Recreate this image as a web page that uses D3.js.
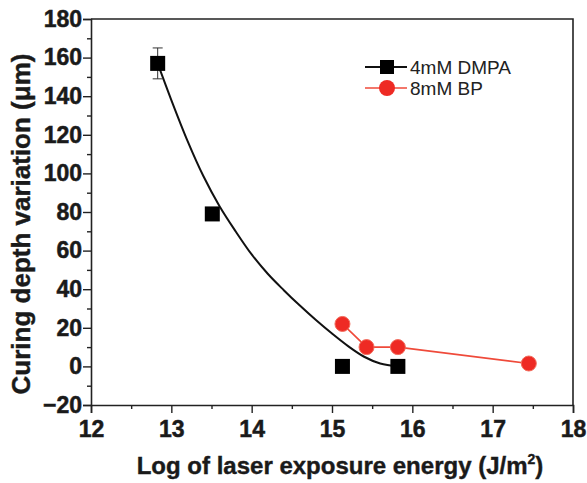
<!DOCTYPE html>
<html>
<head>
<meta charset="utf-8">
<script src="https://cdn.jsdelivr.net/npm/d3@7"></script>
<style>
  body { margin: 0; background: #fff; }
  svg { display: block; font-family: "Liberation Sans", Arial, sans-serif; }
</style>
</head>
<body>
<svg width="587" height="483"></svg>
<script>
// data
var dmpaX = [12.83, 13.51, 15.13, 15.82];
var dmpaY = [157, 79, 0, 0];
var dmpaErr = [8, 0, 0, 0];
var bpX = [15.13, 15.43, 15.82, 17.45];
var bpY = [22, 10, 10, 1.5];
// fitted curve for DMPA
var fitX = [12.83, 13.0, 13.2, 13.4, 13.6, 13.8, 14.0, 14.2, 14.4, 14.6, 14.8, 15.0, 15.2, 15.4, 15.6, 15.82];
var fitY = [157, 138, 117, 98.5, 83, 70, 58, 48, 39.5, 31.5, 24, 17, 10.5, 5, 1.5, 0];
var xTicks = [12, 13, 14, 15, 16, 17, 18];
var yTicks = [-20, 0, 20, 40, 60, 80, 100, 120, 140, 160, 180];
var xMinor = [12.5, 13.5, 14.5, 15.5, 16.5, 17.5];
var yMinor = [-10, 10, 30, 50, 70, 90, 110, 130, 150, 170];
var seriesNames = ["4mM DMPA", "8mM BP"];

var svg = d3.select("svg"),
    m = {left: 91, right: 573, top: 19, bottom: 405};

var x = d3.scaleLinear().domain([12, 18]).range([m.left, m.right]);
var y = d3.scaleLinear().domain([-20, 180]).range([m.bottom, m.top]);

var axisColor = "#222";

// frame top / right
svg.append("path")
  .attr("d", "M" + m.left + "," + m.top + "H" + m.right + "V" + m.bottom)
  .attr("fill", "none").attr("stroke", axisColor).attr("stroke-width", 1.6);

// major axes
var gx = svg.append("g").attr("transform", "translate(0," + m.bottom + ")")
  .call(d3.axisBottom(x).tickValues(xTicks).tickSize(8).tickPadding(4).tickFormat(d3.format("d")));
var gy = svg.append("g").attr("transform", "translate(" + m.left + ",0)")
  .call(d3.axisLeft(y).tickValues(yTicks).tickSize(8).tickPadding(1).tickFormat(d3.format("d")));

// minor ticks
svg.append("g").attr("transform", "translate(0," + m.bottom + ")")
  .call(d3.axisBottom(x).tickValues(xMinor).tickSize(4).tickFormat(""))
  .select(".domain").remove();
svg.append("g").attr("transform", "translate(" + m.left + ",0)")
  .call(d3.axisLeft(y).tickValues(yMinor).tickSize(4).tickFormat(""))
  .select(".domain").remove();

svg.selectAll(".domain").attr("stroke", axisColor).attr("stroke-width", 1.6);
svg.selectAll(".tick line").attr("stroke", axisColor).attr("stroke-width", 1.4);
svg.selectAll(".tick text")
  .attr("font-family", "'Liberation Sans', Arial, sans-serif")
  .attr("font-size", 23).attr("font-weight", "bold").attr("fill", "#1a1a1a")
  .attr("stroke", "#1a1a1a").attr("stroke-width", 0.5);
gx.selectAll(".tick text").attr("dy", "0.85em");

// axis titles
svg.append("text")
  .attr("x", 340).attr("y", 474)
  .attr("text-anchor", "middle")
  .attr("font-size", 24).attr("font-weight", "bold").attr("fill", "#1a1a1a")
  .attr("stroke", "#1a1a1a").attr("stroke-width", 0.4)
  .html("Log of laser exposure energy (J/m<tspan dy='-10' font-size='14'>2</tspan><tspan dy='10'>)</tspan>");

svg.append("text")
  .attr("transform", "translate(30,224) rotate(-90)")
  .attr("text-anchor", "middle")
  .attr("font-size", 26).attr("font-weight", "bold").attr("fill", "#1a1a1a")
  .attr("stroke", "#1a1a1a").attr("stroke-width", 0.4)
  .text("Curing depth variation (\u03bcm)");

// DMPA fit curve
var fit = fitX.map(function(d, i) { return [d, fitY[i]]; });
svg.append("path")
  .datum(fit)
  .attr("fill", "none").attr("stroke", "#111").attr("stroke-width", 2)
  .attr("d", d3.line().x(function(d) { return x(d[0]); }).y(function(d) { return y(d[1]); }).curve(d3.curveCatmullRom.alpha(0.5)));

// BP line
var bp = bpX.map(function(d, i) { return [d, bpY[i]]; });
svg.append("path")
  .datum(bp)
  .attr("fill", "none").attr("stroke", "#ef4a3a").attr("stroke-width", 1.6)
  .attr("d", d3.line().x(function(d) { return x(d[0]); }).y(function(d) { return y(d[1]); }));

// error bars
var dmpa = dmpaX.map(function(d, i) { return {x: d, y: dmpaY[i], e: dmpaErr[i]}; });
var eb = svg.append("g").selectAll("g")
  .data(dmpa.filter(function(d) { return d.e > 0; }))
  .enter().append("g");
eb.append("line")
  .attr("x1", function(d) { return x(d.x); }).attr("x2", function(d) { return x(d.x); })
  .attr("y1", function(d) { return y(d.y + d.e); }).attr("y2", function(d) { return y(d.y - d.e); })
  .attr("stroke", "#333").attr("stroke-width", 1);
eb.selectAll(".cap")
  .data(function(d) { return [d.y + d.e, d.y - d.e].map(function(v) { return {x: d.x, v: v}; }); })
  .enter().append("line")
  .attr("x1", function(d) { return x(d.x) - 5; }).attr("x2", function(d) { return x(d.x) + 5; })
  .attr("y1", function(d) { return y(d.v); }).attr("y2", function(d) { return y(d.v); })
  .attr("stroke", "#333").attr("stroke-width", 1);

// squares
var sq = 15;
svg.append("g").selectAll("rect")
  .data(dmpa)
  .enter().append("rect")
  .attr("x", function(d) { return x(d.x) - sq / 2; })
  .attr("y", function(d) { return y(d.y) - sq / 2; })
  .attr("width", sq).attr("height", sq)
  .attr("fill", "#000");

// circles
svg.append("g").selectAll("circle")
  .data(bp)
  .enter().append("circle")
  .attr("cx", function(d) { return x(d[0]); })
  .attr("cy", function(d) { return y(d[1]); })
  .attr("r", 7.5)
  .attr("fill", "#ee2a24").attr("stroke", "#f26a5a").attr("stroke-width", 1);

// legend
var legend = svg.append("g").selectAll("g")
  .data(seriesNames)
  .enter().append("g")
  .attr("transform", function(d, i) { return "translate(0," + (67 + i * 21) + ")"; });
legend.append("line")
  .attr("x1", 365).attr("x2", 407).attr("y1", 0).attr("y2", 0)
  .attr("stroke", function(d, i) { return i ? "#ef4a3a" : "#111"; })
  .attr("stroke-width", function(d, i) { return i ? 1.6 : 2; });
legend.filter(function(d, i) { return i === 0; }).append("rect")
  .attr("x", 387 - 7).attr("y", -7).attr("width", 14).attr("height", 14).attr("fill", "#000");
legend.filter(function(d, i) { return i === 1; }).append("circle")
  .attr("cx", 387).attr("cy", 0).attr("r", 8).attr("fill", "#ee2a24");
legend.append("text")
  .attr("x", 410).attr("y", 0).attr("dy", "0.35em")
  .attr("font-size", 19).attr("fill", "#222")
  .text(function(d) { return d; });
</script>
</body>
</html>
